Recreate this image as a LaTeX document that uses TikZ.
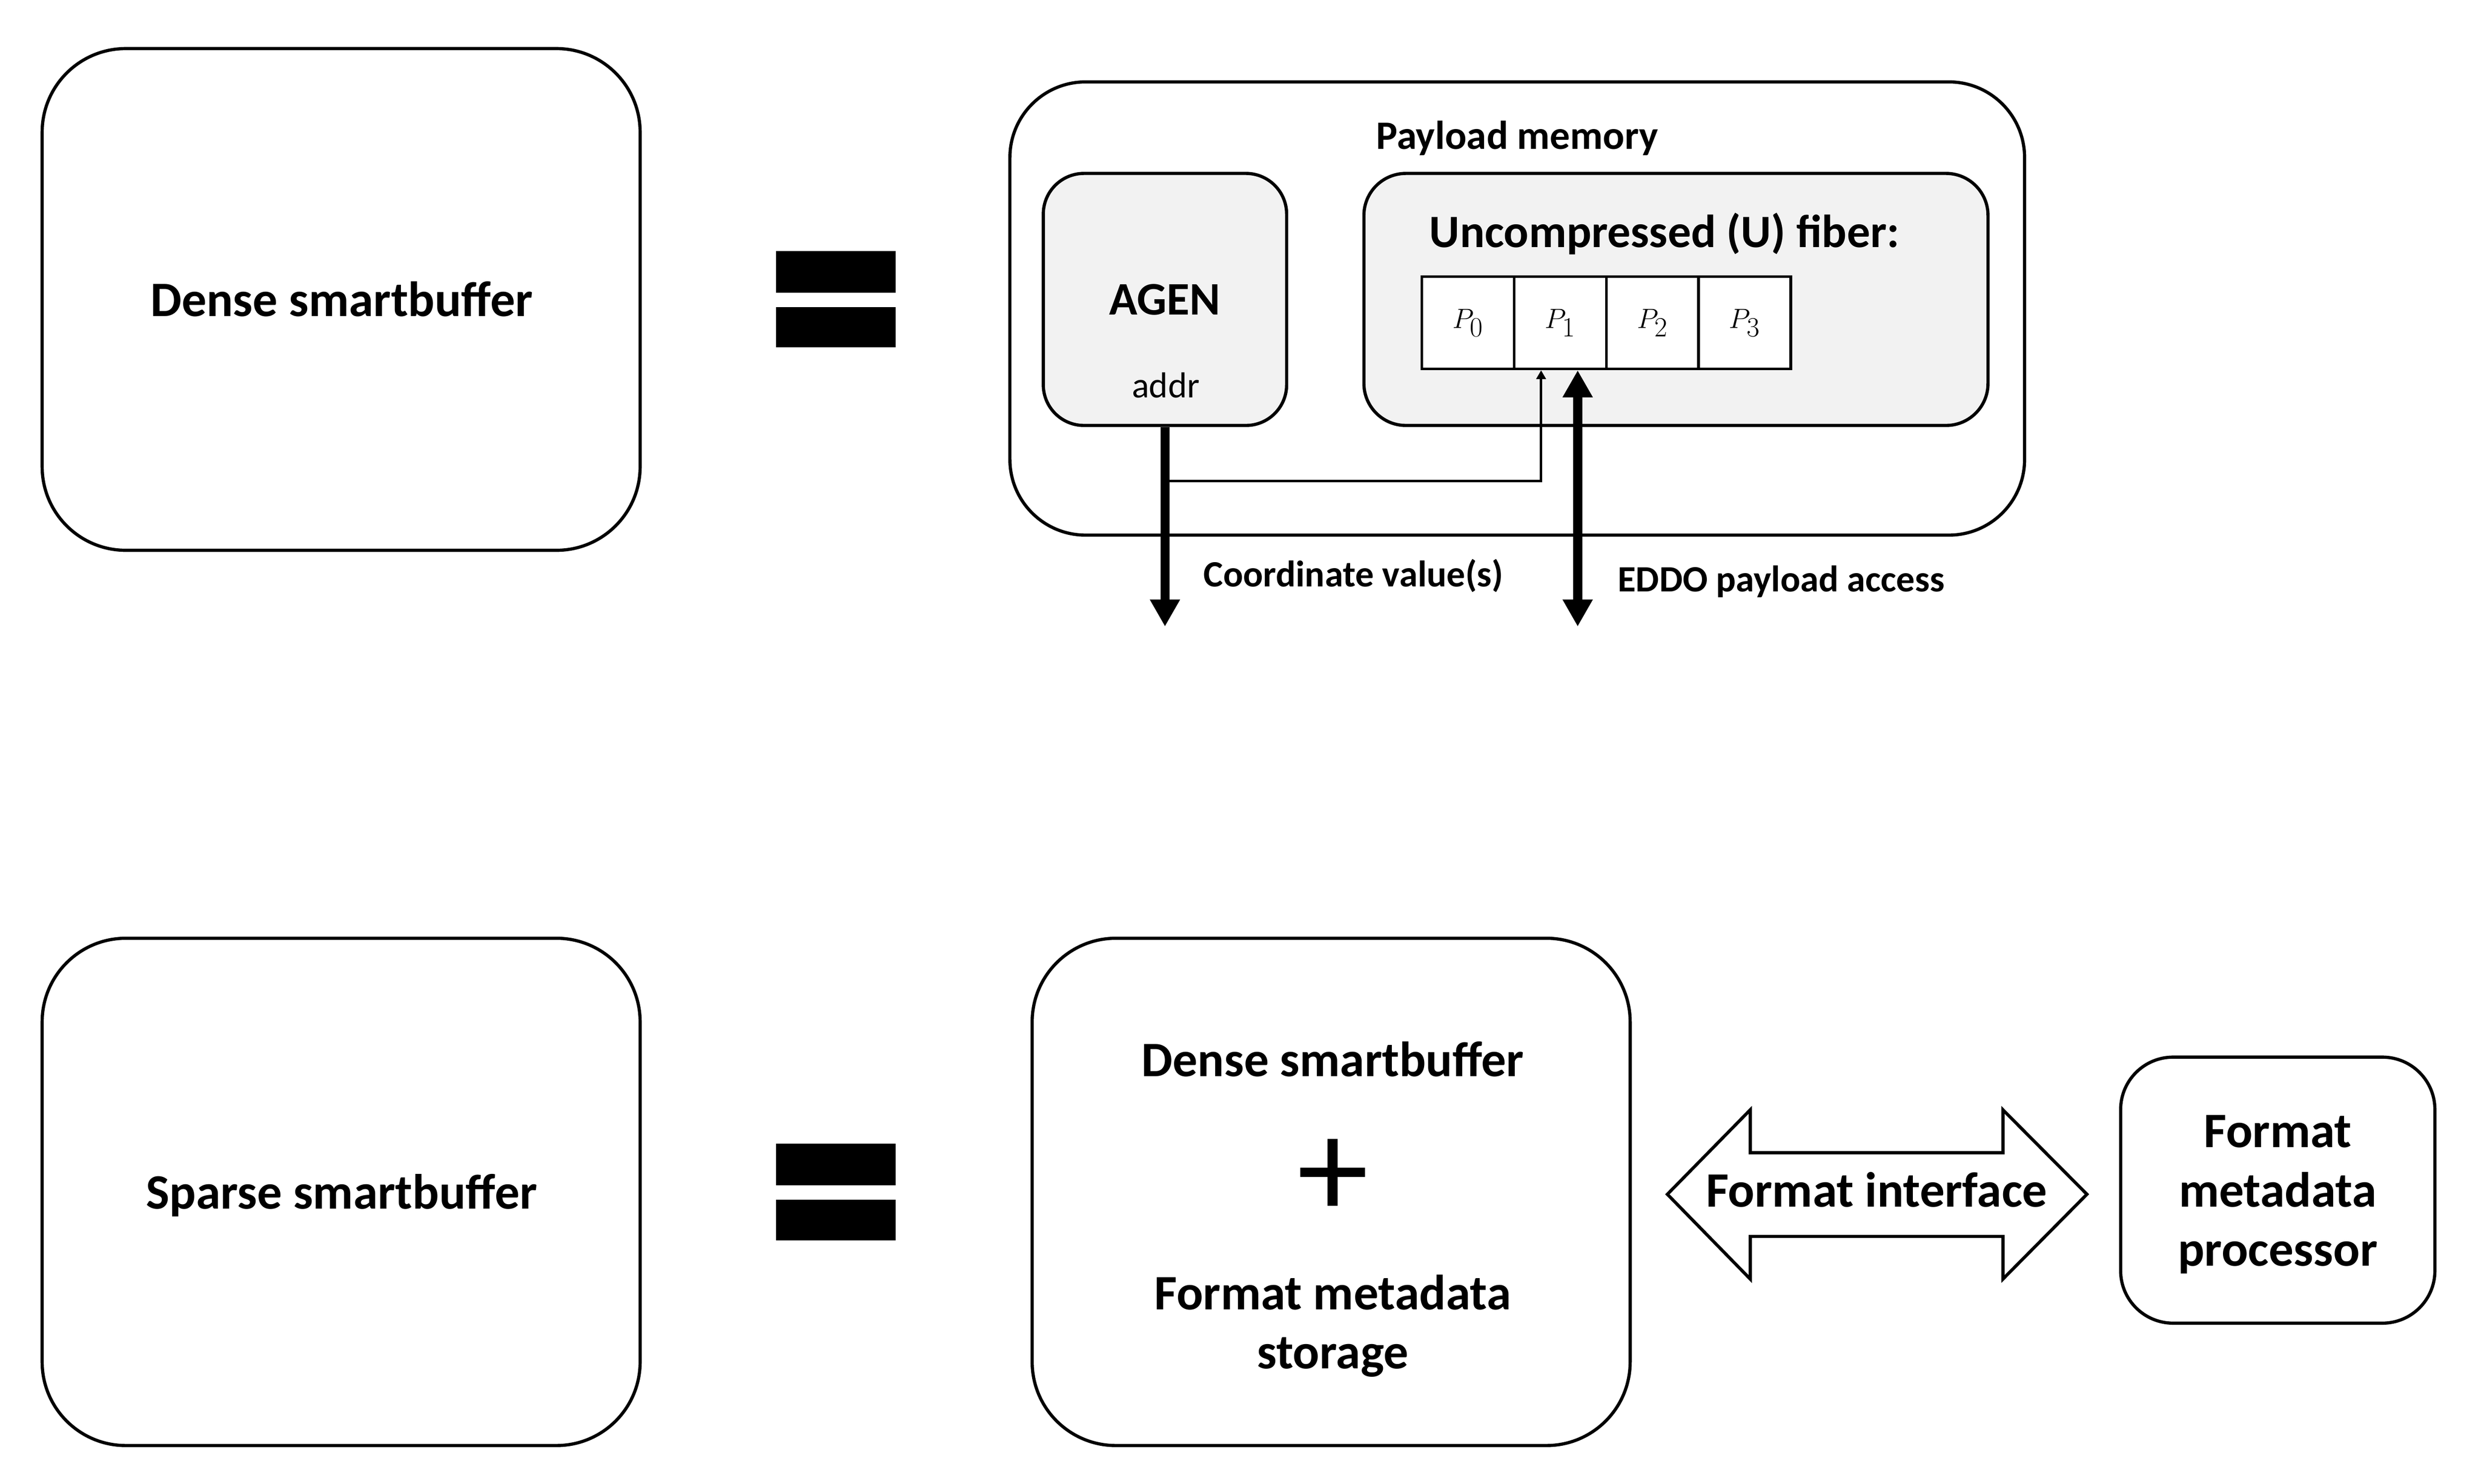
\documentclass[tikz,border=0pt]{standalone}
\usepackage{fontspec}
\setmainfont{Carlito}
\usetikzlibrary{arrows.meta}
\definecolor{boxgray}{HTML}{F2F2F2}
\newcommand\pxu{0.05cm}
\tikzset{
  rbox/.style={draw, line width=2.85pt, inner sep=0pt},
  cellbox/.style={draw, line width=2.4pt, fill=white, inner sep=0pt,
    minimum width=58*\pxu, minimum height=58*\pxu,
    font=\fontsize{33}{33}\selectfont},
  bigtxt/.style={font=\fontsize{44.3}{53}\selectfont\bfseries, inner sep=0pt, anchor=base},
  midtxt/.style={font=\fontsize{36}{42}\selectfont\bfseries, inner sep=0pt, anchor=base},
  smalltxt/.style={font=\fontsize{33.2}{38}\selectfont\bfseries, inner sep=0pt, anchor=base},
  eqbar/.style={fill=black},
  thickarrow/.style={line width=8.2pt, -{Triangle[length=0.85cm,width=0.89cm]}},
  thickdouble/.style={line width=8.2pt, {Triangle[length=0.85cm,width=0.89cm]}-{Triangle[length=0.85cm,width=0.89cm]}},
  thinarrow/.style={line width=2.2pt, -{Triangle[length=0.28cm,width=0.3cm]}},
}
\begin{document}
\begin{tikzpicture}[x=0.05cm,y=-0.05cm]
\useasboundingbox (0,0) rectangle (1560,933);

% ---------- top row ----------
\node[rbox, minimum width=376*\pxu, minimum height=315.5*\pxu, rounded corners=2.63cm] (dsb) at (214.5,188.3) {};
\node[bigtxt] (dsbt) at (214.8,199) {Dense smartbuffer};

\fill[eqbar] (488,158) rectangle (563,184);
\fill[eqbar] (488,193) rectangle (563,218.5);

\node[rbox, minimum width=638*\pxu, minimum height=285*\pxu, rounded corners=2.38cm] (pm) at (954,194) {};
\node[midtxt] (pmt) at (954,93.8) {Payload memory};

\node[rbox, fill=boxgray, minimum width=153*\pxu, minimum height=158.5*\pxu, rounded corners=1.28cm] (agen) at (732.5,188.3) {};
\node[font=\fontsize{41.8}{48}\selectfont\bfseries, inner sep=0pt, anchor=base] (agent) at (732.5,198) {AGEN};
\node[font=\fontsize{32.3}{38}\selectfont, inner sep=0pt, anchor=base] (addr) at (733,250) {addr};

\node[rbox, fill=boxgray, minimum width=392.4*\pxu, minimum height=158.5*\pxu, rounded corners=1.32cm] (ufib) at (1053.8,188.3) {};
\node[font=\fontsize{41.5}{48}\selectfont\bfseries, inner sep=0pt, anchor=base] (ufibt) at (1046.6,155.5) {Uncompressed (U) fiber:};

\node[cellbox] (p0) at (923,203) {$P_0$};
\node[cellbox] (p1) at (981,203) {$P_1$};
\node[cellbox] (p2) at (1039,203) {$P_2$};
\node[cellbox] (p3) at (1097,203) {$P_3$};

\coordinate (coordout) at (732.5,394);
\coordinate (br) at (732.5,302.6);
\coordinate (eddoout) at (992,394);

\draw[thickarrow] (agen.south) -- (coordout);
\draw[thinarrow] (br) -| ([xshift=-0.6cm]p1.south);
\draw[thickdouble] (eddoout) -- ([xshift=0.55cm]p1.south);

\node[smalltxt] (cvt) at (851,369) {Coordinate value(s)};
\node[smalltxt] (eddot) at (1120,372) {EDDO payload access};

% ---------- bottom row ----------
\node[rbox, minimum width=376*\pxu, minimum height=319*\pxu, rounded corners=2.63cm] (ssb) at (214.5,749.5) {};
\node[bigtxt] (ssbt) at (214.8,760.2) {Sparse smartbuffer};

\fill[eqbar] (488,719.3) rectangle (563,745.3);
\fill[eqbar] (488,754.3) rectangle (563,780);

\node[rbox, minimum width=376*\pxu, minimum height=319*\pxu, rounded corners=2.63cm] (combo) at (837,749.5) {};
\node[bigtxt] (combo1) at (838,677) {Dense smartbuffer};
\node[font=\fontsize{128}{128}\selectfont, inner sep=0pt, anchor=center] (plus) at (838,741) {+};
\node[bigtxt] (combo2) at (838,823.6) {Format metadata};
\node[bigtxt] (combo3) at (838,860.5) {storage};

\draw[line width=2.85pt, line join=miter]
  (1048.4,751) -- (1100.5,697.9) -- (1100.5,724.9) -- (1259.4,724.9) -- (1259.4,697.9)
  -- (1312.2,751) -- (1259.4,804.3) -- (1259.4,777.5) -- (1100.5,777.5) -- (1100.5,804.3) -- cycle;
\node[bigtxt] (fit) at (1180,758.8) {Format interface};

\node[rbox, minimum width=197.6*\pxu, minimum height=167.3*\pxu, rounded corners=1.65cm] (proc) at (1432.2,748.4) {};
\node[bigtxt] (proc1) at (1432.2,721.5) {Format};
\node[bigtxt] (proc2) at (1432.2,758.8) {metadata};
\node[bigtxt] (proc3) at (1432.2,796) {processor};
\end{tikzpicture}
\end{document}
